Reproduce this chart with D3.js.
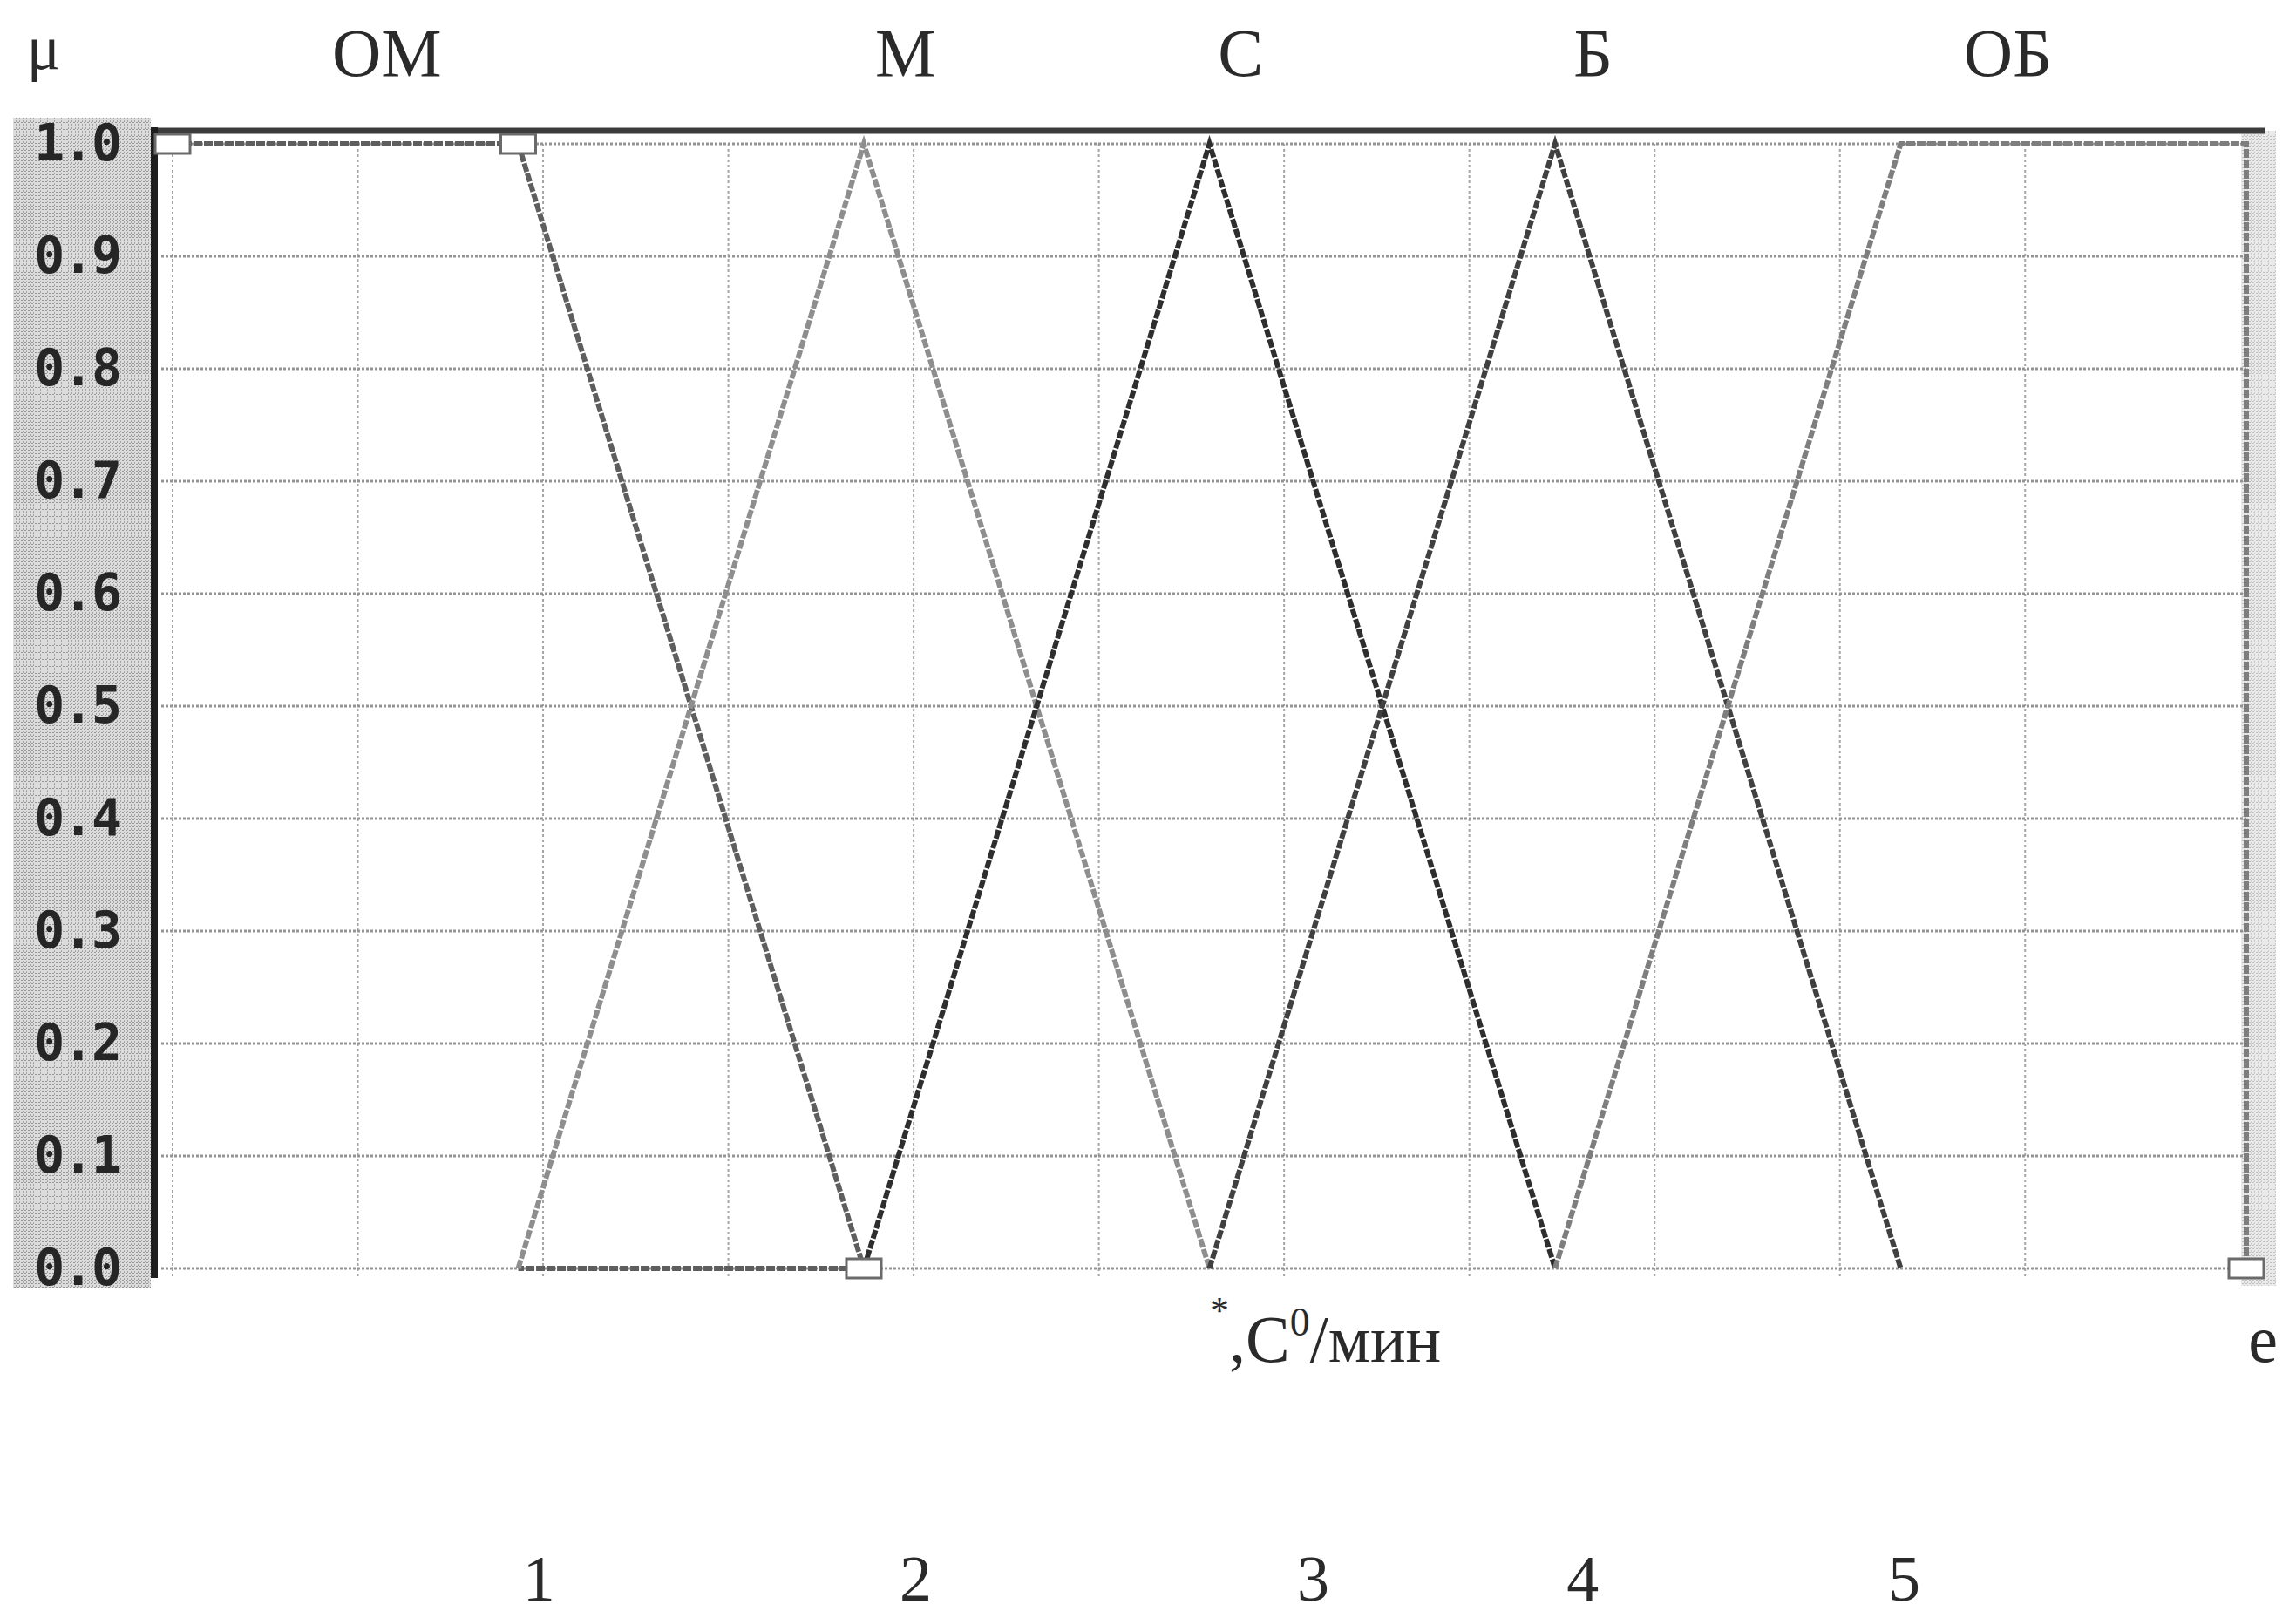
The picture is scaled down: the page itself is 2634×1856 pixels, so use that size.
<!DOCTYPE html>
<html>
<head>
<meta charset="utf-8">
<script src="https://cdn.jsdelivr.net/npm/d3@7"></script>
<style>
    body { margin: 0; background: #fff; }
    svg { display: block; }
</style>
</head>
<body>
<div id="chart"></div>
<script>
// membership terms (x in units of the universe, y = mu)
const termNames = ['ОМ', 'М', 'С', 'Б', 'ОБ'];
const termLabelX = [0.62, 2.12, 3.09, 4.11, 5.31];
const omPoints = [[0, 1], [1, 1], [2, 0], [1, 0]];
const mPoints = [[1, 0], [2, 1], [3, 0]];
const cPoints = [[2, 0], [3, 1], [4, 0]];
const bPoints = [[3, 0], [4, 1], [5, 0]];
const obPoints = [[4, 0], [5, 1], [6, 1], [6, 0]];
const markerPoints = [[0, 1], [1, 1], [2, 0], [6, 0]];
const yTicks = [0, 0.1, 0.2, 0.3, 0.4, 0.5, 0.6, 0.7, 0.8, 0.9, 1.0];
const bottomNumbers = ['1', '2', '3', '4', '5'];
const bottomNumberX = [1.06, 2.15, 3.30, 4.08, 5.01];

const width = 2634, height = 1856;

const svg = d3.select('#chart')
    .append('svg')
    .attr('width', width)
    .attr('height', height);

const x = d3.scaleLinear().domain([0, 6]).range([198, 2577]);
const y = d3.scaleLinear().domain([0, 1]).range([1455, 165]);

// stippled texture for the side panels
const defs = svg.append('defs');
const pat = defs.append('pattern')
    .attr('id', 'stipple')
    .attr('width', 4).attr('height', 4)
    .attr('patternUnits', 'userSpaceOnUse');
pat.append('rect').attr('width', 4).attr('height', 4).attr('fill', '#dcdcdc');
pat.append('rect').attr('x', 0).attr('y', 0).attr('width', 2).attr('height', 1).attr('fill', '#959595');
pat.append('rect').attr('x', 2).attr('y', 2).attr('width', 1).attr('height', 2).attr('fill', '#a5a5a5');

svg.append('rect')
    .attr('x', 15).attr('y', 135)
    .attr('width', 158).attr('height', 1343)
    .attr('fill', 'url(#stipple)');

svg.append('rect')
    .attr('x', x(6) - 6).attr('y', 150)
    .attr('width', 40).attr('height', 1325)
    .attr('fill', 'url(#stipple)')
    .attr('opacity', 0.6);

// grid
const gridX = d3.range(0, 11).map(k => k * 0.536);
svg.append('g')
    .selectAll('line')
    .data(gridX)
    .join('line')
    .attr('x1', d => x(d)).attr('x2', d => x(d))
    .attr('y1', y(1)).attr('y2', y(0) + 10)
    .attr('stroke', '#a5a5a5')
    .attr('stroke-width', 2)
    .attr('stroke-dasharray', '3,3');

svg.append('g')
    .selectAll('line')
    .data(yTicks)
    .join('line')
    .attr('x1', 185).attr('x2', x(6))
    .attr('y1', d => y(d)).attr('y2', d => y(d))
    .attr('stroke', '#949494')
    .attr('stroke-width', 3)
    .attr('stroke-dasharray', '3,2');

// y axis labels
const yAxis = d3.axisLeft(y)
    .tickValues(yTicks)
    .tickFormat(d3.format('.1f'))
    .tickSize(0)
    .tickPadding(12);

svg.append('g')
    .attr('transform', 'translate(150,0)')
    .call(yAxis)
    .call(g => g.select('.domain').remove())
    .selectAll('text')
    .attr('font-family', 'DejaVu Sans Mono')
    .attr('font-weight', 'bold')
    .attr('font-size', 58)
    .attr('letter-spacing', -2)
    .attr('fill', '#262626');

// frame
svg.append('line')
    .attr('x1', 175).attr('x2', 2598)
    .attr('y1', 150).attr('y2', 150)
    .attr('stroke', '#3c3c3c').attr('stroke-width', 7);
svg.append('line')
    .attr('x1', 177).attr('x2', 177)
    .attr('y1', 146).attr('y2', 1466)
    .attr('stroke', '#1e1e1e').attr('stroke-width', 8);

// membership functions
const line = d3.line().x(d => x(d[0])).y(d => y(d[1]));
const series = [
    { pts: omPoints, color: '#5e5e5e' },
    { pts: mPoints, color: '#8e8e8e' },
    { pts: cPoints, color: '#2e2e2e' },
    { pts: bPoints, color: '#404040' },
    { pts: obPoints, color: '#7e7e7e' }
];

svg.append('g')
    .selectAll('path')
    .data(series)
    .join('path')
    .attr('d', d => line(d.pts))
    .attr('fill', 'none')
    .attr('stroke', d => d.color)
    .attr('stroke-width', 6)
    .attr('stroke-dasharray', '10,2');

// vertex markers
svg.append('g')
    .selectAll('rect')
    .data(markerPoints)
    .join('rect')
    .attr('x', d => x(d[0]) - 20)
    .attr('y', d => y(d[1]) - 11)
    .attr('width', 40).attr('height', 22)
    .attr('fill', '#fff')
    .attr('stroke', '#6a6a6a')
    .attr('stroke-width', 3);

// texts
const serif = 'Liberation Serif, Times New Roman, serif';

svg.append('text')
    .attr('x', 50).attr('y', 79)
    .attr('text-anchor', 'middle')
    .attr('font-family', serif).attr('font-size', 72)
    .attr('fill', '#2a2a2a')
    .text('μ');

svg.append('g')
    .selectAll('text')
    .data(termNames)
    .join('text')
    .attr('x', (d, i) => x(termLabelX[i]))
    .attr('y', 87)
    .attr('text-anchor', 'middle')
    .attr('font-family', serif).attr('font-size', 78)
    .attr('fill', '#2a2a2a')
    .text(d => d);

const unit = svg.append('text')
    .attr('x', 1388).attr('y', 1562)
    .attr('font-family', serif).attr('font-size', 76)
    .attr('fill', '#2a2a2a');
unit.append('tspan').attr('font-size', 44).attr('dy', -44).text('*');
unit.append('tspan').attr('dy', 44).text(',C');
unit.append('tspan').attr('font-size', 46).attr('dy', -30).text('0');
unit.append('tspan').attr('dy', 30).text('/мин');

svg.append('text')
    .attr('x', 2596).attr('y', 1562)
    .attr('text-anchor', 'middle')
    .attr('font-family', serif).attr('font-size', 76)
    .attr('fill', '#2a2a2a')
    .text('e');

svg.append('g')
    .selectAll('text')
    .data(bottomNumbers)
    .join('text')
    .attr('x', (d, i) => x(bottomNumberX[i]))
    .attr('y', 1836)
    .attr('text-anchor', 'middle')
    .attr('font-family', serif).attr('font-size', 74)
    .attr('fill', '#2a2a2a')
    .text(d => d);
</script>
</body>
</html>
